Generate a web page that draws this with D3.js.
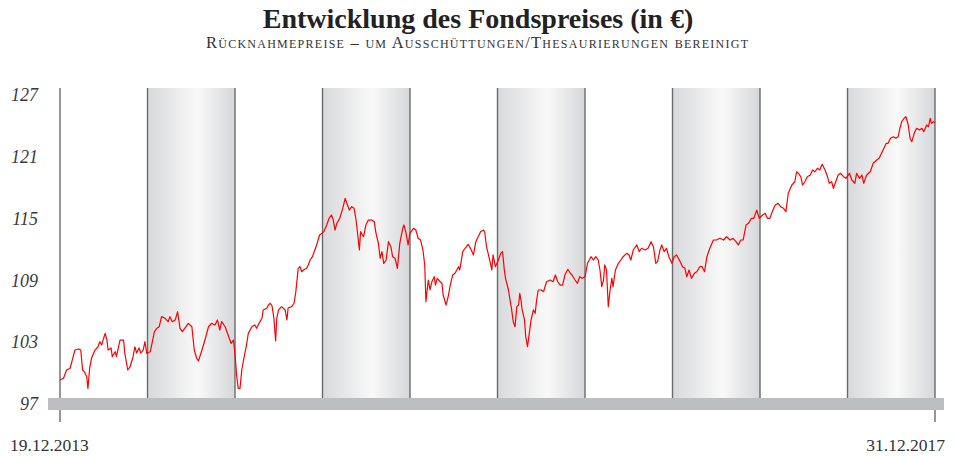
<!DOCTYPE html>
<html><head><meta charset="utf-8">
<script src="https://cdn.jsdelivr.net/npm/d3@7"></script>
<style>
html,body{margin:0;padding:0;background:#fff;}
svg{display:block;font-family:"Liberation Serif","Times New Roman",serif;}
</style></head>
<body><svg id="chart" width="954" height="457"></svg>
<script>
const titleText = "Entwicklung des Fondspreises (in €)";
const subtitleText = "Rücknahmepreise – um Ausschüttungen/Thesaurierungen bereinigt";
const startDate = "2013-12-19";
const endDate = "2017-12-31";
const startLabel = "19.12.2013";
const endLabel = "31.12.2017";
const yTicks = [97, 103, 109, 115, 121, 127];
const bandCount = 10;
// days after 19.12.2013
const days = [0,6,11,17,20,25,32,35,38,41,
45,47,50,53,59,64,67,70,76,79,
81,86,88,93,95,101,107,109,114,118,
123,126,129,133,136,140,143,146,152,156,
159,163,167,171,177,182,185,189,194,198,
202,206,210,216,222,226,230,233,239,244,
250,255,261,265,269,272,278,281,284,288,
292,295,297,300,303,306,309,314,317,323,
328,331,335,340,342,348,351,354,357,360,
363,365,368,373,379,382,384,390,394,397,
401,404,407,410,415,418,421,425,429,432,
437,441,444,449,453,457,460,463,466,471,
476,480,484,487,491,495,498,500,504,506,
511,515,519,525,529,532,536,539,542,545,
549,553,557,560,564,568,572,577,579,582,
586,589,595,599,603,607,611,614,616,620,
623,626,630,632,635,640,643,645,650,654,
657,661,665,671,673,678,682,687,691,696,
700,704,708,713,715,718,722,727,729,733,
738,742,745,748,750,755,758,760,763,766,
769,772,774,776,778,782,784,787,790,793,
797,800,802,805,810,814,819,825,830,834,
838,842,846,850,855,859,862,867,871,875,
879,884,888,894,898,902,906,909,912,915,
917,920,923,926,929,931,935,940,944,948,
954,958,961,965,971,975,979,985,990,995,
999,1003,1006,1010,1013,1017,1021,1025,1030,1034,
1038,1044,1048,1052,1055,1059,1063,1068,1072,1077,
1081,1085,1089,1094,1100,1105,1111,1117,1122,1128,
1133,1138,1142,1146,1150,1155,1159,1164,1168,1173,
1177,1183,1187,1191,1195,1198,1204,1209,1213,1218,
1222,1226,1232,1237,1240,1243,1247,1250,1254,1258,
1263,1267,1271,1275,1279,1283,1288,1292,1295,1299,
1302,1305,1310,1314,1319,1323,1329,1333,1338,1341,
1346,1350,1353,1358,1364,1369,1375,1379,1383,1387,
1391,1394,1398,1403,1407,1411,1414,1417,1421,1424,
1428,1431,1434,1438,1442,1447,1451,1454,1459,1462,
1465,1467,1471,1473];
const prices = [99.33,99.50,100.30,100.47,101.11,102.24,102.34,102.24,100.30,100.14,
99.65,98.52,100.50,101.44,102.24,102.56,103.05,102.73,103.86,103.21,
102.24,102.44,101.59,102.08,101.59,103.21,103.21,101.95,100.30,100.62,
101.59,102.56,101.95,102.44,101.95,102.24,103.05,101.92,102.08,103.21,
104.02,104.35,104.50,105.48,105.32,104.99,105.48,104.99,105.16,105.96,
104.35,104.02,104.35,104.83,104.50,102.24,101.44,101.17,102.24,103.21,
104.50,104.83,104.67,105.16,104.18,104.99,104.50,104.02,103.53,102.89,
103.21,101.59,99.98,98.52,98.52,100.30,101.27,102.73,103.86,104.50,
104.67,104.35,104.83,105.32,106.13,106.29,106.61,106.78,106.51,105.35,
103.12,105.35,106.13,106.45,106.13,105.16,106.32,106.45,106.78,107.90,
110.17,110.33,109.84,110.01,110.17,110.50,110.98,111.30,111.95,112.44,
113.41,113.57,113.73,114.38,115.03,115.35,114.86,113.89,114.54,115.03,
116.00,116.97,116.32,115.83,116.16,116.00,115.03,114.06,111.95,113.73,
113.24,114.38,114.86,114.86,114.70,113.57,112.60,111.15,111.79,110.66,
110.98,112.76,112.27,111.30,111.15,110.17,112.60,114.06,114.38,113.73,
112.44,113.57,114.06,113.89,113.09,112.92,111.95,110.50,106.93,109.04,
108.07,108.87,109.36,108.55,109.20,108.87,108.72,107.58,106.61,107.58,
108.55,109.52,109.69,110.33,110.01,111.79,112.12,112.50,112.12,111.47,
112.76,113.24,113.73,113.89,113.70,112.27,111.30,110.01,111.47,110.33,
110.98,111.63,111.79,110.01,109.20,108.07,106.93,106.29,104.99,104.50,
106.45,106.61,107.75,107.10,106.13,105.16,103.53,102.56,103.86,105.16,
106.13,105.81,106.93,108.07,108.07,107.90,108.87,109.04,108.87,109.52,
108.87,108.55,108.55,109.52,110.08,109.69,109.52,109.04,108.72,109.36,
109.20,109.36,110.66,111.30,110.98,111.30,110.98,110.01,108.39,109.04,
110.50,110.01,106.45,108.07,109.20,108.39,110.01,110.66,110.98,111.30,
111.63,111.47,110.98,111.95,112.44,111.79,112.12,111.95,112.12,112.76,
112.27,110.66,110.82,111.95,112.44,111.79,112.12,111.30,110.66,111.30,
111.47,110.82,110.33,110.17,109.36,110.01,109.20,109.69,109.84,110.33,
110.33,109.84,111.30,112.12,112.92,112.92,113.09,112.92,113.24,112.92,
113.09,112.76,112.44,112.92,112.92,114.38,114.54,115.03,115.03,115.83,
115.03,115.35,115.51,115.03,115.03,115.51,116.32,116.49,116.16,116.00,
115.67,117.46,118.26,118.58,119.55,119.40,119.07,118.26,118.58,119.07,
119.23,119.72,119.55,119.88,119.72,120.27,119.72,119.07,118.43,118.58,
117.94,118.43,119.23,119.40,119.07,118.91,119.40,118.75,118.43,119.40,
118.91,119.23,118.43,119.23,119.55,120.37,120.69,120.85,121.34,121.83,
122.31,122.31,122.80,122.95,122.80,122.95,123.77,124.41,124.74,124.89,
124.09,122.80,122.47,123.28,123.77,123.60,123.77,123.44,124.09,123.92,
124.74,124.25,124.41,124.30];

const svg = d3.select("#chart");
const parse = d3.timeParse("%Y-%m-%d");
const t0 = parse(startDate), t1 = parse(endDate);
const n = Math.min(days.length, prices.length);
const data = d3.range(n).map(i => ({date: d3.timeDay.offset(t0, days[i]), v: prices[i]}));

const x = d3.scaleTime().domain([t0, t1]).range([60, 935]);
const y = d3.scaleLinear().domain([97, 127]).range([404, 95]);

const defs = svg.append("defs");
const grad = defs.append("linearGradient").attr("id","bandGrad").attr("x1","0").attr("x2","1").attr("y1","0").attr("y2","0");
grad.append("stop").attr("offset","0%").attr("stop-color","#d8d9db");
grad.append("stop").attr("offset","57%").attr("stop-color","#f9f9f9");
grad.append("stop").attr("offset","100%").attr("stop-color","#d6d7d9");

const xr = x.range();
const step = (xr[1]-xr[0]) / bandCount;
const plotTop = 88, barTop = 398, barBottom = 410;

// shaded bands (every second segment)
svg.append("g").selectAll("rect")
  .data(d3.range(1, bandCount, 2))
  .join("rect")
  .attr("x", i => xr[0] + i*step)
  .attr("y", plotTop)
  .attr("width", step)
  .attr("height", barTop - plotTop)
  .attr("fill", "url(#bandGrad)");

// separator lines
svg.append("g").selectAll("line")
  .data(d3.range(0, bandCount+1))
  .join("line")
  .attr("x1", i => xr[0] + i*step).attr("x2", i => xr[0] + i*step)
  .attr("y1", plotTop)
  .attr("y2", i => (i === 0 || i === bandCount) ? 422 : barTop)
  .attr("stroke", "#6b6b6b").attr("stroke-width", 1.4);

// base bar
svg.append("rect").attr("x", 48).attr("y", barTop).attr("width", 896).attr("height", barBottom - barTop).attr("fill", "#bdbec1");

// y axis labels
const yAxis = d3.axisLeft(y).tickValues(yTicks).tickSize(0).tickPadding(0).tickFormat(d3.format("d"));
const ya = svg.append("g").attr("transform","translate(38,0)").call(yAxis);
ya.select(".domain").remove();
ya.selectAll("text").attr("font-family","'Liberation Serif',serif").attr("font-style","italic").attr("font-size",18).attr("fill","#3a3a3a");

// line
svg.append("path").datum(data)
  .attr("fill","none").attr("stroke","#ff0000").attr("stroke-width",1.2).attr("stroke-linejoin","round")
  .attr("d", d3.line().x(d => x(d.date)).y(d => y(d.v)));

// x labels
svg.append("text").attr("x", 10).attr("y", 451).attr("font-size", 17.5).attr("fill","#333").text(startLabel);
svg.append("text").attr("x", 945).attr("y", 451).attr("text-anchor","end").attr("font-size", 17.5).attr("fill","#333").text(endLabel);

// titles
svg.append("text").attr("x", 478).attr("y", 28).attr("text-anchor","middle").attr("font-size", 28).attr("font-weight","bold").attr("fill","#222").text(titleText);
svg.append("text").attr("x", 477).attr("y", 48).attr("text-anchor","middle").attr("font-size", 16.5)
  .attr("textLength", 542).attr("lengthAdjust", "spacing")
  .style("font-variant","small-caps").attr("fill","#333").text(subtitleText);
</script></body></html>
